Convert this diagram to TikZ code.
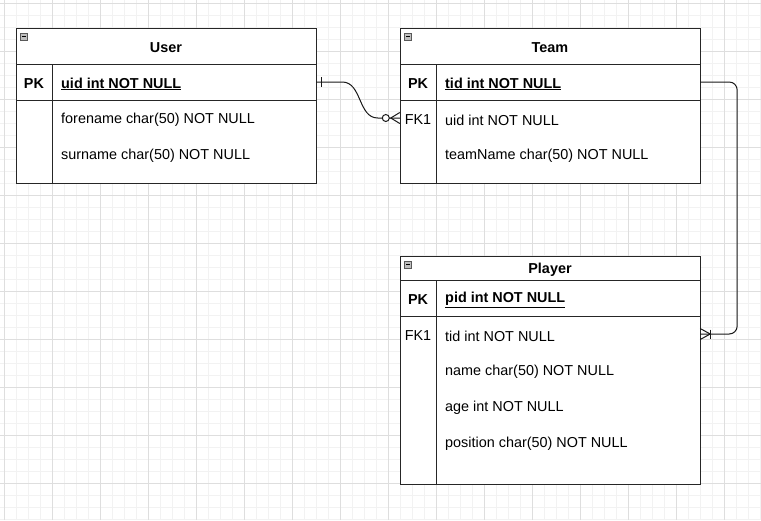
\documentclass[tikz,border=0pt]{standalone}
\usepackage{fontspec}
\setmainfont{Liberation Sans}
\usetikzlibrary{calc}

\begin{document}
\begin{tikzpicture}[x=1pt,y=-1pt]
            \tikzstyle{minorgrid} = [draw=black!5, line width=.6pt]
            \tikzstyle{majorgrid} = [draw=black!13, line width=.7pt]
            \tikzstyle{entity} = [draw=black!85, line width=1pt, fill=white, minimum width=300pt, inner sep=0pt]
            \tikzstyle{row} = [minimum width=300pt, minimum height=36pt, inner sep=0pt]
            \tikzstyle{line} = [draw=black!85, line width=1pt]
            \tikzstyle{link} = [draw=black!90, line width=1pt]
            \tikzstyle{field} = [anchor=west, inner sep=0pt, font=\fontsize{14.4}{17}\selectfont]
            \tikzstyle{key} = [inner sep=0pt, font=\fontsize{14.4}{17}\selectfont\bfseries]
            \tikzstyle{icon} = [draw=black!65, fill=black!25, line width=.7pt]

            \useasboundingbox (0,0) rectangle (761,520);
            \fill [white] (0,0) rectangle (761,520);
            \foreach \x in {4,16,...,760} \draw [minorgrid] (\x,0) -- (\x,520);
            \foreach \y in {3,15,...,519} \draw [minorgrid] (0,\y) -- (761,\y);
            \foreach \x in {4,52,...,760} \draw [majorgrid] (\x,0) -- (\x,520);
            \foreach \y in {3,51,...,519} \draw [majorgrid] (0,\y) -- (761,\y);

            % User
            \node (user) [entity, minimum height=155pt] at (166,105.5) {};
            \draw [line] (16,64) -- (316,64);
            \draw [line] (16,100) -- (316,100);
            \draw [line] (52,64) -- (52,183);
            \draw [icon] (20.5,33) rectangle (27.5,40);
            \draw [line width=1pt] (22,36.5) -- (26,36.5);
            \node (utitle) [key] at (166,47.5) {User};
            \node (upk) [row] at (166,82) {};
            \node (upklabel) [key] at (34,83.5) {PK};
            \node (uid) [field, font=\fontsize{14.4}{17}\selectfont\bfseries] at (61,84) {\underline{uid int NOT NULL}};
            \node (forename) [field] at (61,120) {forename char(50) NOT NULL};
            \node (surname) [field] at (61,156) {surname char(50) NOT NULL};

            % Team
            \node (team) [entity, minimum height=155pt] at (550,105.5) {};
            \draw [line] (400,64) -- (700,64);
            \draw [line] (400,100) -- (700,100);
            \draw [line] (436,64) -- (436,183);
            \draw [icon] (404.5,33) rectangle (411.5,40);
            \draw [line width=1pt] (406,36.5) -- (410,36.5);
            \node (ttitle) [key] at (550,47.5) {Team};
            \node (tpk) [row] at (550,82) {};
            \node (tfk) [row] at (550,118) {};
            \node (tpklabel) [key] at (418,83.5) {PK};
            \node (tfklabel) [key, font=\fontsize{14.4}{17}\selectfont] at (418,119.5) {FK1};
            \node (tid) [field, font=\fontsize{14.4}{17}\selectfont\bfseries] at (445,84) {\underline{tid int NOT NULL}};
            \node (tuid) [field] at (445,120) {uid int NOT NULL};
            \node (teamname) [field] at (445,156) {teamName char(50) NOT NULL};

            % Player
            \node (player) [entity, minimum height=228pt] at (550,370) {};
            \draw [line] (400,280) -- (700,280);
            \draw [line] (400,316) -- (700,316);
            \draw [line] (436,280) -- (436,484);
            \draw [icon] (404.5,261) rectangle (411.5,268);
            \draw [line width=1pt] (406,264.5) -- (410,264.5);
            \node (ptitle) [key] at (550,269.5) {Player};
            \node (pfk) [row] at (550,334) {};
            \node (ppklabel) [key] at (418,299.5) {PK};
            \node (pfklabel) [key, font=\fontsize{14.4}{17}\selectfont] at (418,335.5) {FK1};
            \node (pid) [field, font=\fontsize{14.4}{17}\selectfont\bfseries] at (445,300) {\underline{pid int NOT NULL}};
            \node (ptid) [field] at (445,336) {tid int NOT NULL};
            \node (pname) [field] at (445,372) {name char(50) NOT NULL};
            \node (page) [field] at (445,408) {age int NOT NULL};
            \node (pposition) [field] at (445,444) {position char(50) NOT NULL};

            % User -- Team
            \draw [link] (upk.east) -- ++(26,0) to[out=0, in=180] ($(tfk.west)+(-22,0)$) -- (tfk.west);
            \draw [link] ($(upk.east)+(5,-5)$) -- ++(0,10);
            \draw [link, fill=white] ($(tfk.west)+(-14,0)$) circle (3.5pt);
            \draw [link] ($(tfk.west)+(0,-5.5)$) -- ($(tfk.west)+(-9,0)$) -- ($(tfk.west)+(0,5.5)$);

            % Team -- Player
            \draw [link, rounded corners=8pt] (tpk.east) -| ($(pfk.east)+(37,0)$) -- (pfk.east);
            \draw [link] ($(pfk.east)+(0,-5.5)$) -- ($(pfk.east)+(10,0)$) -- ($(pfk.east)+(0,5.5)$);
            \draw [link] ($(pfk.east)+(10.5,-4.5)$) -- ++(0,9);
        \end{tikzpicture}
\end{document}
